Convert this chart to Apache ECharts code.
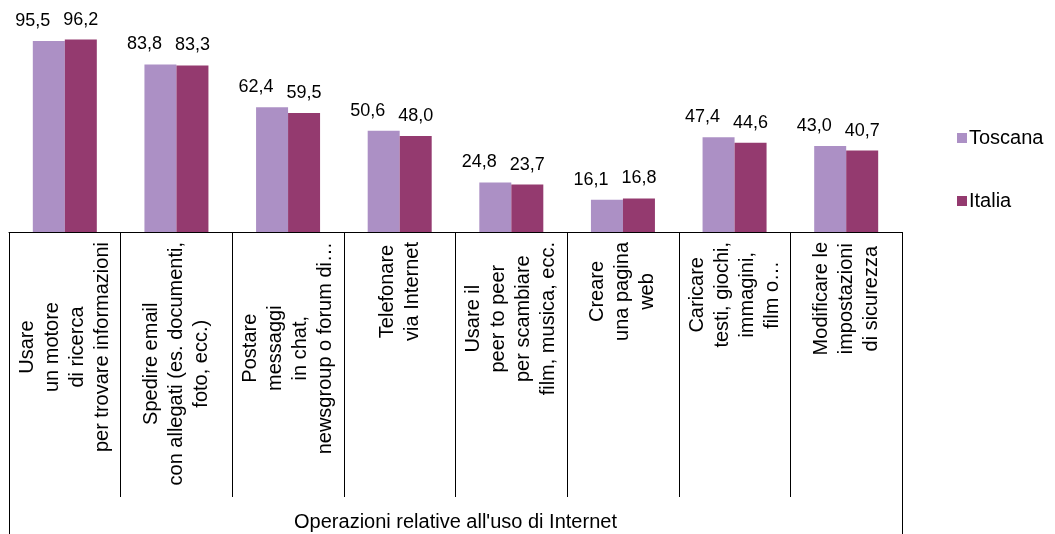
<!DOCTYPE html>
<html>
<head>
<meta charset="utf-8">
<script src="https://cdn.jsdelivr.net/npm/echarts@6/dist/echarts.min.js"></script>
<style>
  html, body { margin: 0; padding: 0; background: #fff; }
  #chart { width: 1055px; height: 534px; }
</style>
</head>
<body>
<div id="chart"></div>
<script>
const categories = [
  ['Usare', 'un motore', 'di ricerca', 'per trovare informazioni'],
  ['Spedire email', 'con allegati (es. documenti,', 'foto, ecc.)'],
  ['Postare', 'messaggi', 'in chat,', 'newsgroup o forum di…'],
  ['Telefonare', 'via Internet'],
  ['Usare il', 'peer to peer', 'per scambiare', 'film, musica, ecc.'],
  ['Creare', 'una pagina', 'web'],
  ['Caricare', 'testi, giochi,', 'immagini,', 'film o…'],
  ['Modificare le', 'impostazioni', 'di sicurezza']
];
const groupLabel = ["Operazioni relative all'uso di Internet"];
const seriesNames = ['Toscana', 'Italia'];
const toscana = [95.5, 83.8, 62.4, 50.6, 24.8, 16.1, 47.4, 43.0];
const italia  = [96.2, 83.3, 59.5, 48.0, 23.7, 16.8, 44.6, 40.7];

const FONT = "'Liberation Sans', Arial, sans-serif";
const fmt = p => p.value.toFixed(1).replace('.', ',');
const catNames = categories.map(c => c.join('\n'));

const chart = echarts.init(document.getElementById('chart'), null, { renderer: 'canvas' });
chart.setOption({
  animation: false,
  backgroundColor: '#fff',
  textStyle: { fontFamily: FONT, color: '#000' },
  grid: { left: 9, right: 153, top: 32, bottom: 302, containLabel: false },
  legend: {
    data: seriesNames,
    orient: 'vertical',
    left: 957,
    top: 128,
    padding: 0,
    itemWidth: 10,
    itemHeight: 10,
    itemGap: 43,
    icon: 'rect',
    textStyle: { fontFamily: FONT, fontSize: 20, color: '#000', padding: [0, 0, 0, -3] }
  },
  xAxis: [
    {
      type: 'category',
      position: 'bottom',
      data: catNames,
      axisLine: { show: true, lineStyle: { color: '#000', width: 1 } },
      axisTick: { show: true, length: 265, alignWithLabel: false, lineStyle: { color: '#000', width: 1 } },
      axisLabel: {
        interval: 0,
        rotate: 90,
        margin: 10,
        fontFamily: FONT,
        fontSize: 20,
        color: '#000',
        lineHeight: 25,
        formatter: v => v.split('\n').map(l => '{c|' + l + '}').join('\n'),
        rich: { c: { align: 'center', fontFamily: FONT, fontSize: 20, lineHeight: 25, color: '#000' } }
      },
      splitLine: { show: false }
    },
    {
      type: 'category',
      position: 'bottom',
      offset: 0,
      data: groupLabel,
      axisLine: { show: false },
      axisTick: { show: true, length: 302, alignWithLabel: false, lineStyle: { color: '#000', width: 1 } },
      axisLabel: { interval: 0, margin: 280, fontFamily: FONT, fontSize: 20, color: '#000' },
      splitLine: { show: false }
    }
  ],
  yAxis: { type: 'value', min: 0, max: 100, show: false, splitLine: { show: false } },
  series: [
    {
      name: seriesNames[0],
      type: 'bar',
      xAxisIndex: 0,
      data: toscana,
      barWidth: 32,
      barGap: '0%',
      itemStyle: { color: '#AC90C5' },
      label: { show: true, position: 'top', distance: 11, offset: [-16, 0], formatter: fmt, fontFamily: FONT, fontSize: 18, color: '#000' }
    },
    {
      name: seriesNames[1],
      type: 'bar',
      xAxisIndex: 0,
      data: italia,
      barWidth: 32,
      barGap: '0%',
      itemStyle: { color: '#943A6F' },
      label: { show: true, position: 'top', distance: 11, formatter: fmt, fontFamily: FONT, fontSize: 18, color: '#000' }
    }
  ]
});
</script>
</body>
</html>
